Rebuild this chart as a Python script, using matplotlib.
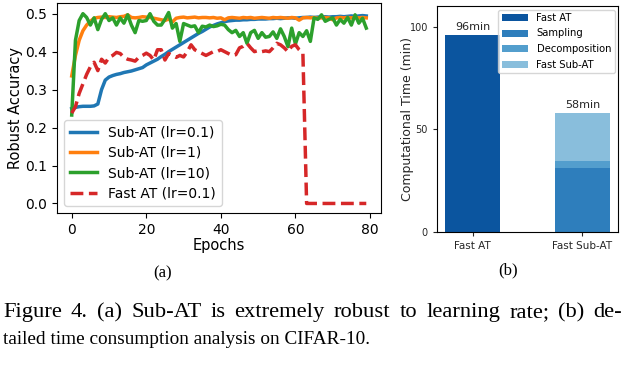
import matplotlib
matplotlib.use("Agg")
import matplotlib.pyplot as plt
import numpy as np

epochs = list(range(80))

sub_at_lr01 = [0.250, 0.253, 0.255, 0.256, 0.256, 0.256, 0.257, 0.262, 0.300, 0.325,
               0.333, 0.337, 0.340, 0.342, 0.345, 0.347, 0.349, 0.352, 0.355, 0.358,
               0.365, 0.370, 0.375, 0.380, 0.387, 0.393, 0.400, 0.406, 0.412, 0.418,
               0.424, 0.430, 0.436, 0.442, 0.448, 0.453, 0.459, 0.465, 0.469, 0.473,
               0.476, 0.479, 0.481, 0.482, 0.483, 0.483, 0.484, 0.484, 0.485, 0.485,
               0.486, 0.486, 0.486, 0.487, 0.487, 0.488, 0.487, 0.488, 0.489, 0.489,
               0.488, 0.489, 0.490, 0.490, 0.491, 0.490, 0.491, 0.491, 0.492, 0.491,
               0.492, 0.492, 0.493, 0.492, 0.493, 0.494, 0.493, 0.494, 0.495, 0.494]

sub_at_lr1 = [0.336, 0.390, 0.430, 0.455, 0.470, 0.480, 0.488, 0.490, 0.491, 0.490,
              0.492, 0.491, 0.490, 0.492, 0.493, 0.497, 0.490, 0.489, 0.490, 0.492,
              0.491, 0.490, 0.488, 0.486, 0.484, 0.482, 0.486, 0.478, 0.488, 0.490,
              0.491, 0.489, 0.490, 0.491, 0.489, 0.490, 0.490, 0.489, 0.490, 0.488,
              0.489, 0.484, 0.489, 0.490, 0.489, 0.488, 0.490, 0.489, 0.490, 0.488,
              0.489, 0.490, 0.489, 0.488, 0.490, 0.489, 0.490, 0.489, 0.488, 0.490,
              0.489, 0.483, 0.489, 0.490, 0.489, 0.490, 0.488, 0.489, 0.490, 0.489,
              0.484, 0.489, 0.490, 0.489, 0.490, 0.489, 0.490, 0.489, 0.490, 0.489]

sub_at_lr10 = [0.233, 0.430, 0.482, 0.500, 0.490, 0.470, 0.489, 0.458, 0.485, 0.500,
               0.482, 0.489, 0.470, 0.489, 0.475, 0.497, 0.470, 0.450, 0.482, 0.480,
               0.482, 0.500, 0.480, 0.470, 0.470, 0.485, 0.503, 0.462, 0.474, 0.427,
               0.474, 0.470, 0.466, 0.468, 0.450, 0.467, 0.465, 0.470, 0.466, 0.468,
               0.472, 0.470, 0.458, 0.450, 0.456, 0.440, 0.450, 0.422, 0.450, 0.456,
               0.435, 0.450, 0.438, 0.440, 0.452, 0.435, 0.460, 0.440, 0.413, 0.462,
               0.420, 0.450, 0.440, 0.455, 0.427, 0.489, 0.485, 0.497, 0.480, 0.485,
               0.489, 0.470, 0.485, 0.475, 0.490, 0.470, 0.497, 0.475, 0.488, 0.462]

fast_at_lr01 = [0.238, 0.255, 0.290, 0.315, 0.340, 0.360, 0.372, 0.350, 0.380, 0.370,
                0.385, 0.390, 0.398, 0.395, 0.385, 0.380, 0.378, 0.375, 0.385, 0.390,
                0.396, 0.390, 0.378, 0.405, 0.405, 0.378, 0.395, 0.390, 0.385, 0.390,
                0.386, 0.400, 0.418, 0.405, 0.400, 0.395, 0.390, 0.395, 0.400, 0.400,
                0.405, 0.400, 0.395, 0.390, 0.392, 0.410, 0.414, 0.422, 0.410, 0.400,
                0.403, 0.400, 0.402, 0.400, 0.410, 0.422, 0.418, 0.410, 0.400, 0.414,
                0.418, 0.405, 0.396, 0.0, 0.0, 0.0, 0.0, 0.0, 0.0, 0.0,
                0.0, 0.0, 0.0, 0.0, 0.0, 0.0, 0.0, 0.0, 0.0, 0.0]

bar_categories = ["Fast AT", "Fast Sub-AT"]
fast_at_time = [96, 0]
sampling_time = [0, 31]
decomposition_time = [0, 3.5]
fast_sub_at_time = [0, 23.5]
bar_totals = [96, 58]
bar_labels = ["96min", "58min"]

caption_line1 = "Figure 4. (a) Sub-AT is extremely robust to learning rate; (b) de-"
caption_line2 = "tailed time consumption analysis on CIFAR-10."

W, H = 626, 366
fig = plt.figure(figsize=(W/100, H/100), dpi=100)

# Left panel
ax1 = fig.add_axes([57/W, 1-213/H, (381-57)/W, (213-3)/H])
ax1.plot(epochs, sub_at_lr01, color="tab:blue", lw=2.5, label="Sub-AT (lr=0.1)")
ax1.plot(epochs, sub_at_lr1, color="tab:orange", lw=2.5, label="Sub-AT (lr=1)")
ax1.plot(epochs, sub_at_lr10, color="tab:green", lw=2.5, label="Sub-AT (lr=10)")
ax1.plot(epochs, fast_at_lr01, color="tab:red", lw=2.5, ls="--", label="Fast AT (lr=0.1)")
ax1.set_xticks([0, 20, 40, 60, 80])
ax1.set_yticks([0.0, 0.1, 0.2, 0.3, 0.4, 0.5])
ax1.tick_params(labelsize=10)
ax1.set_xlabel("Epochs", fontsize=10.5, labelpad=1)
ax1.set_ylabel("Robust Accuracy", fontsize=10.5)
ax1.yaxis.set_label_coords((23-57)/324, 0.5)
ax1.legend(loc="lower left", fontsize=10, handlelength=2.0, labelspacing=0.45)

# Right panel
ax2 = fig.add_axes([437/W, 1-232/H, (618-437)/W, (232-6)/H])
x = np.arange(len(bar_categories))
w = 0.5
c_fast = "#0b559f"
c_samp = "#2e7ebc"
c_dec = "#539ecd"
c_fsub = "#89bedc"
ax2.bar(x, fast_at_time, w, color=c_fast, label="Fast AT")
ax2.bar(x, sampling_time, w, color=c_samp, label="Sampling")
b = np.array(sampling_time)
ax2.bar(x, decomposition_time, w, bottom=b, color=c_dec, label="Decomposition")
b = b + np.array(decomposition_time)
ax2.bar(x, fast_sub_at_time, w, bottom=b, color=c_fsub, label="Fast Sub-AT")
for xi, t, lab in zip(x, bar_totals, bar_labels):
    ax2.text(xi, t + 1.5, lab, ha="center", va="bottom", fontsize=8, color="#262626")
ax2.set_ylim(0, 110)
ax2.set_yticks([0, 50, 100])
ax2.set_xticks(x)
ax2.set_xticklabels(bar_categories)
ax2.tick_params(axis="y", labelsize=7, colors="#262626", length=3)
ax2.tick_params(axis="x", labelsize=7.5, colors="#262626", length=3)
ax2.set_ylabel("Computational Time (min)", fontsize=9, color="#262626")
ax2.yaxis.set_label_coords((414-437)/181, 0.5)
ax2.legend(loc="upper right", fontsize=7.2, handlelength=2.6, borderaxespad=0.35,
           labelspacing=0.55, handletextpad=0.9, borderpad=0.35)

# Sub captions
fig.text(163/W, 1-273/H, "(a)", ha="center", va="center", family="Liberation Serif", fontsize=12)
fig.text(508/W, 1-270/H, "(b)", ha="center", va="center", family="Liberation Serif", fontsize=12)

# Justified first caption line
cap_fs1 = 16.2
cap_fs2 = 13.9
renderer = fig.canvas.get_renderer()
words = caption_line1.split(" ")
widths = []
tmp = []
for wd in words:
    t = fig.text(0, 0, wd, family="Liberation Serif", fontsize=cap_fs1)
    widths.append(t.get_window_extent(renderer).width)
    tmp.append(t)
for t in tmp:
    t.remove()
x0, x1 = 3.0, 622.5
gap = (x1 - x0 - sum(widths)) / (len(words) - 1)
xp = x0
for wd, wdt in zip(words, widths):
    fig.text(xp/W, 1-317/H, wd, ha="left", va="baseline", family="Liberation Serif", fontsize=cap_fs1)
    xp += wdt + gap
fig.text(3/W, 1-344/H, caption_line2, ha="left", va="baseline",
         family="Liberation Serif", fontsize=cap_fs2)

fig.savefig("out.png", dpi=100)
